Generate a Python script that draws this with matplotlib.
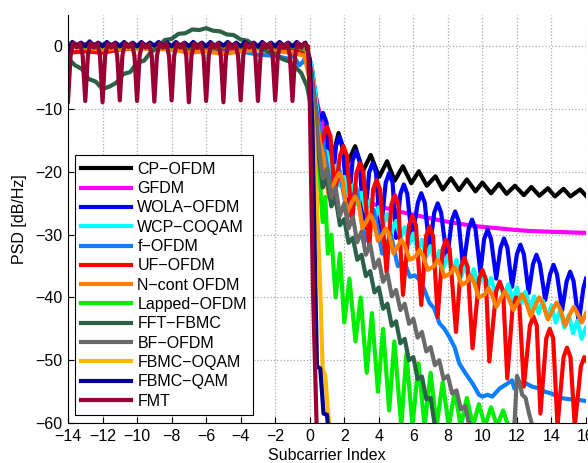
import matplotlib
matplotlib.use('Agg')
import matplotlib.pyplot as plt

plt.rcParams['font.family'] = ['Liberation Sans', 'DejaVu Sans']
plt.rcParams['font.size'] = 11.5

# ---- data (x = subcarrier index, y = PSD in dB/Hz) ----
labels = ['CP\u2212OFDM', 'GFDM', 'WOLA\u2212OFDM', 'WCP\u2212COQAM', 'f\u2212OFDM',
          'UF\u2212OFDM', 'N\u2212cont OFDM', 'Lapped\u2212OFDM', 'FFT\u2212FBMC',
          'BF\u2212OFDM', 'FBMC\u2212OQAM', 'FBMC\u2212QAM', 'FMT']
colors = ['#000000', '#ff00ff', '#0000ff', '#00ffff', '#0a7fff', '#ff0000', '#ff8000',
          '#00ee00', '#2b6147', '#6a6a6a', '#ffb800', '#00008c', '#990033']

cp_x = [-14, -10, -5, -1, -0.2, 0.1, 0.35, 0.75, 1.2, 1.67, 2.15, 2.63, 3.08, 3.53, 4.02,
        4.48, 4.92, 5.4, 5.88, 6.32, 6.78, 7.28, 7.7, 8.18, 8.65, 9.1, 9.6, 10.0, 10.5,
        10.96, 11.4, 11.88, 12.4, 12.84, 13.3, 13.79, 14.2, 14.7, 15.1, 15.66, 16.0]
cp_y = [0, 0, 0, 0, -0.5, -4, -9, -12.5, -19, -13.8, -18.8, -15.9, -19.9, -17.3, -20.8,
        -18.3, -21.4, -19.1, -21.8, -19.9, -22.2, -20.7, -22.8, -21.0, -22.9, -21.2, -23.1,
        -21.7, -23.4, -21.9, -23.5, -22.2, -23.7, -22.4, -23.8, -22.6, -23.9, -22.7, -23.9,
        -22.8, -23.8]

gfdm_x = [-14, -7, -1, -0.2, 0.1, 0.35, 0.6, 1.0, 1.5, 2.0, 2.72, 3.4, 4.06, 5.0, 5.98,
          7.0, 7.9, 9.0, 9.81, 11.0, 11.72, 12.7, 13.64, 14.7, 15.84, 16]
gfdm_y = [0, 0, 0, -0.5, -4, -8, -11, -15.5, -19.5, -22, -23.9, -24.8, -25.5, -26.2, -26.8,
          -27.4, -27.9, -28.4, -28.7, -29.0, -29.2, -29.4, -29.5, -29.6, -29.7, -29.7]

wola_x = [-14, -9, -4, -1, -0.2, 0.1, 0.35, 0.55, 0.77, 0.97, 1.25, 1.52, 1.72, 1.92, 2.2,
          2.48, 2.68, 2.88, 3.15, 3.44, 3.64, 3.84, 4.1, 4.4, 4.6, 4.8, 5.0, 5.25, 5.45,
          5.65, 5.92, 6.26, 6.46, 6.66, 6.94, 7.21, 7.41, 7.61, 7.95, 8.22, 8.42, 8.62,
          8.88, 9.2, 9.4, 9.6, 9.88, 10.1, 10.3, 10.5, 10.8, 11.05, 11.25, 11.45, 11.72,
          12.0, 12.2, 12.4, 12.68, 12.93, 13.13, 13.33, 13.64, 13.92, 14.12, 14.32, 14.62,
          14.88, 15.08, 15.28, 15.58, 15.85, 16.0]
wola_y = [0, 0, 0, 0, -0.5, -3, -8, -12, -10.6, -12.1, -24, -15.9, -14.4, -15.9, -27,
          -18.2, -16.7, -18.2, -29, -20.1, -18.6, -20.1, -30, -21.7, -20.2, -21.7, -30.5,
          -23.5, -22.0, -23.5, -30.8, -24.9, -23.4, -24.9, -32.4, -26.5, -25.0, -26.5,
          -34, -27.8, -26.3, -27.8, -35.3, -29.1, -27.6, -29.1, -36, -30.7, -29.2, -30.7,
          -37, -32.1, -30.6, -32.1, -38.3, -33.1, -31.6, -33.1, -39.3, -34.7, -33.2,
          -34.7, -40.4, -36.3, -34.8, -36.3, -42, -37.4, -35.9, -37.4, -44, -38.5, -37.0]

wcp_x = [-14, -9, -4, -1, -0.2, 0.1, 0.3,
         0.5, 0.75, 1.0, 1.25, 1.5, 1.75, 2.0, 2.25, 2.5, 2.75, 3.0, 3.25, 3.5, 3.75, 4.0,
         4.25, 4.5, 4.75, 5.0, 5.25, 5.5, 5.75, 6.0, 6.25, 6.5, 6.75, 7.0, 7.25, 7.5, 7.75,
         8.0, 8.25, 8.5, 8.75, 9.0, 9.25, 9.5, 9.75, 10.0, 10.25, 10.5, 10.75, 11.0, 11.25,
         11.5, 11.75, 12.0, 12.25, 12.5, 12.75, 13.0, 13.25, 13.5, 13.75, 14.0, 14.25,
         14.5, 14.75, 15.0, 15.25, 15.5, 15.75, 16.0]
wcp_y = [0, 0, 0, 0, -0.5, -3, -7,
         -12.0, -16.5, -16.8, -20.4, -19.0, -22.2, -20.8, -23.8, -22.1, -25.2, -23.3,
         -26.3, -24.5, -27.5, -25.6, -28.5, -26.7, -29.5, -27.8, -30.5, -28.8, -31.5,
         -29.8, -32.5, -30.8, -33.5, -31.8, -34.4, -32.6, -35.2, -33.3, -36.0, -34.0,
         -36.8, -34.8, -37.5, -35.5, -38.2, -36.3, -38.8, -36.9, -39.3, -37.4, -39.8,
         -37.9, -40.4, -38.4, -41.0, -39.1, -41.7, -39.8, -42.5, -40.5, -43.3, -41.3,
         -44.0, -42.0, -44.8, -42.8, -45.7, -43.7, -46.6, -44.8]

fofdm_x = [-14, -12, -10, -8, -6, -4, -3, -2, -1.2, -1, -0.6, -0.4, -0.2, 0.0, 0.3, 0.5,
           0.7, 1.2, 1.7, 2.2, 2.7, 3.2, 3.7, 4.2, 4.7, 5.1, 5.5, 5.8, 6.1, 6.36, 6.6,
           6.94, 7.2, 7.51, 7.8, 8.09, 8.4, 8.66, 9.0, 9.43, 9.8, 10.0, 10.3, 10.57, 11.0,
           11.4, 11.72, 11.85, 12.0, 12.4, 12.87, 13.3, 13.6, 14.0, 14.5, 15.0, 15.56, 16.0]
fofdm_y = [0, -0.3, 0, -0.5, -0.3, -0.8, -1.3, -1.5, -2, -1.3, -3, -2.5, -1.5, -4, -9,
           -12, -14.5, -22, -19.5, -27, -22.5, -31, -26, -33, -30, -35, -34.5, -36.7,
           -36.5, -37.2, -38.5, -40.9, -41.7, -44.1, -45, -46.3, -48, -50.5, -52, -53.7,
           -55.5, -55.8, -55.5, -55.8, -54.5, -53.8, -53.2, -54.5, -54, -53.5, -54.2,
           -54.5, -55, -55.3, -56, -56.2, -56.3, -56.5]

uf_x = [-14, -13, -12, -11, -10, -5, -1, -0.2, 0.1, 0.35, 0.55, 0.8, 1.0, 1.2, 1.45, 1.75,
        1.95, 2.15, 2.45, 2.71, 2.91, 3.11, 3.45, 3.67, 3.87, 4.07, 4.45, 4.73, 4.93, 5.13,
        5.4, 5.75, 5.95, 6.15, 6.46, 6.74, 6.94, 7.14, 7.41, 7.7, 7.9, 8.1, 8.47, 8.75,
        8.95, 9.15, 9.43, 9.8, 10.0, 10.2, 10.4, 10.8, 11.0, 11.2, 11.44, 11.75, 11.95,
        12.15, 12.4, 12.75, 12.95, 13.15, 13.36, 13.7, 13.9, 14.1, 14.35, 14.7, 14.9,
        15.1, 15.35, 15.7, 15.9, 16.0]
uf_y = [-1, -0.8, -1, -0.5, -0.3, -0.3, -0.3, -1, -4, -10, -16, -14.3, -12.8, -14.3, -24,
        -17.4, -15.9, -17.4, -28, -20.1, -18.6, -20.1, -32, -22.8, -21.3, -22.8, -36,
        -25.2, -23.7, -25.2, -39.6, -28.5, -27.0, -28.5, -41.2, -30.2, -28.7, -30.2,
        -43.1, -32.3, -30.8, -32.3, -45.5, -35.2, -33.7, -35.2, -48.1, -37.1, -35.6,
        -37.1, -50.2, -39.0, -37.5, -39.0, -52.9, -41.5, -40.0, -41.5, -54.2, -44.5,
        -43.0, -44.5, -58.5, -46.5, -45.0, -46.5, -60.5, -49.5, -48.0, -49.5, -60.5,
        -51.0, -49.5, -50.0]

ncont_x = [-14, -12, -10, -8, -7, -6, -5, -4, -3, -2, -1, -0.3, 0.2, 0.6, 0.8, 1.1, 1.5,
           1.7, 1.9, 2.15, 2.43, 2.63, 2.83, 3.05, 3.3, 3.5, 3.7, 3.95, 4.2, 4.4, 4.6,
           4.85, 5.11, 5.31, 5.51, 5.79, 6.16, 6.36, 6.56, 6.84, 7.21, 7.41, 7.61, 7.8,
           8.17, 8.37, 8.57, 8.8, 9.1, 9.3, 9.5, 9.8, 10.15, 10.35, 10.55, 10.8, 11.1,
           11.3, 11.5, 11.8, 12.1, 12.3, 12.5, 12.8, 13.1, 13.3, 13.5, 13.8, 14.1, 14.3,
           14.5, 14.8, 15.1, 15.3, 15.5, 15.75, 16.0]
ncont_y = [0, -0.5, -0.3, -0.5, -1, -0.8, -1.2, -0.8, -0.5, -0.8, -1, -1.5, -8, -15.4,
           -17.5, -24, -21.2, -20.2, -21.2, -26.5, -24.9, -23.9, -24.9, -29, -27.8, -26.8,
           -27.8, -31, -30, -29, -30, -33, -31.8, -30.8, -31.8, -34, -33.4, -32.4, -33.4,
           -35.6, -35, -34, -35, -36.7, -36.1, -35.1, -36.1, -38, -37.5, -36.5, -37.5,
           -40, -39.5, -38.5, -39.5, -41.5, -40, -39, -40, -42, -40.5, -39.5, -40.5, -43,
           -41, -40, -41, -43.5, -41.8, -40.8, -41.8, -44.5, -42.5, -41.5, -42.5, -44,
           -42.5]

lapped_x = [-14, -7, -1, -0.2, 0.1, 0.3, 0.45, 0.6, 0.75, 0.9, 1.05, 1.25, 1.5, 1.75, 2.0,
            2.3, 2.65, 2.95, 3.3, 3.6, 3.95, 4.25, 4.6, 4.9, 5.3, 5.6, 5.95, 6.3, 6.65,
            7.0, 7.35, 7.7, 8.05, 8.4, 8.75, 9.1, 9.45, 9.8, 10.15, 10.5, 10.85, 11.2, 11.5]
lapped_y = [0, 0, 0, -0.5, -5, -14, -20, -22, -28, -24, -33, -30, -40, -33, -44, -37, -47,
            -40, -52, -42.5, -55, -45, -58, -47, -60.5, -49, -60.5, -50.5, -60.5, -52,
            -60.5, -53.5, -60.5, -55, -60.5, -56, -60.5, -57, -60.5, -57.5, -60.5, -58,
            -60.5]

fft_x = [-14, -13.6, -13.2, -12.8, -12.4, -12.0, -11.6, -11.2, -10.8, -10.4, -10.0, -9.6,
         -9.2, -8.8, -8.4, -8.0, -7.6, -7.2, -6.8, -6.4, -6.0, -5.6, -5.2, -4.8, -4.4,
         -4.0, -3.6, -3.2, -2.8, -2.4, -2.0, -1.6, -1.2, -0.8, -0.5, -0.15, 0.1, 0.3,
         0.5, 0.75, 1.0, 1.25, 1.5, 1.75, 2.0, 2.25, 2.5, 2.75, 3.0, 3.25, 3.5, 3.75, 4.0,
         4.25, 4.5, 4.75, 5.0, 5.25, 5.5, 5.75, 6.0, 6.25, 6.5, 6.75, 7.0, 7.25]
fft_y = [-1.9, -3.0, -3.6, -5.2, -5.6, -6.8, -6.4, -5.8, -4.4, -4.1, -2.6, -2.3, -0.9, -0.2,
         1.0, 1.2, 2.0, 2.1, 2.7, 2.6, 2.9, 2.5, 2.4, 1.9, 1.8, 1.1, 0.9, 0.1, -0.3, -0.9,
         -1.2, -2.0, -2.4, -3.4, -4.2, -6.4, -10, -14, -17.0, -22.5, -21.0, -25.5, -24.2,
         -28.5, -27.5, -31.3, -30.5, -34.0, -33.2, -36.6, -35.8, -39.2, -38.4, -41.8,
         -41.0, -44.5, -43.8, -47.3, -46.6, -50.0, -49.5, -53.0, -52.6, -56.2, -56.0,
         -60.5]

bf_x = [-14, -13.5, -10, -5, -1, -0.2, 0.25,
        0.5, 0.75, 1.0, 1.25, 1.5, 1.75, 2.0, 2.25, 2.5, 2.75, 3.0, 3.25, 3.5, 3.75, 4.0,
        4.25, 4.5, 4.75, 5.0, 5.25, 5.5, 5.75, 6.0, 6.25, 6.5, 6.75, 7.0, 7.25, 7.5, 7.75,
        8.0, 8.25, 8.5, 8.75, 9.0, 9.25, None,
        11.85, 12.0, 12.15, 12.3, 12.5, 12.7, 12.9]
bf_y = [0.5, 0.4, 0.2, 0.2, 0.2, -0.3, -8,
        -15.5, -21.0, -19.5, -24.0, -22.5, -27.0, -25.0, -29.0, -27.2, -31.2, -29.5,
        -33.2, -31.5, -35.3, -34.0, -37.5, -36.2, -39.8, -38.8, -42.0, -41.0, -44.2,
        -43.4, -46.4, -45.5, -48.6, -47.9, -50.8, -50.0, -53.0, -52.5, -55.3, -54.8,
        -57.8, -57.3, -60.5, None,
        -60.5, -52.5, -53.5, -55.5, -56.0, -58.5, -60.5]

oqam_x = [-14, -10, -5, -1, -0.2, 0.0, 0.2, 0.4, 0.61, 0.75, 0.9, 1.06, 1.15]
oqam_y = [0.3, 0.2, 0.2, 0.2, 0, -4, -12, -24, -38.8, -51.6, -52.4, -58.5, -60.5]

qam_x = [-14, -13.75, -13.5, -13.25, -13.0, -12.75, -12.5, -12.25, -12.0, -11.75, -11.5,
         -11.25, -11.0, -10.75, -10.5, -10.25, -10.0, -9.75, -9.5, -9.25, -9.0, -8.75,
         -8.5, -8.25, -8.0, -7.75, -7.5, -7.25, -7.0, -6.75, -6.5, -6.25, -6.0, -5.75,
         -5.5, -5.25, -5.0, -4.75, -4.5, -4.25, -4.0, -3.75, -3.5, -3.25, -3.0, -2.75,
         -2.5, -2.25, -2.0, -1.75, -1.5, -1.25, -1.0, -0.75, -0.5, -0.25, 0.0, 0.15,
         0.33, 0.42, 0.61, 0.8, 1.0, 1.06]
qam_y = [-0.8, 0.7, 0.1, 0.6, 0.0, 0.8, 0.1, 0.6, 0.0, 0.7, 0.1, 0.6, 0.0, 0.7,
         0.1, 0.6, 0.0, 0.7, 0.1, 0.6, 0.1, 0.7, 0.1, 0.6, 0.0, 0.7, 0.1, 0.6,
         0.0, 0.7, 0.1, 0.6, 0.0, 0.7, 0.1, 0.6, 0.1, 0.7, 0.1, 0.6, 0.0, 0.7,
         0.1, 0.6, 0.0, 0.7, 0.1, 0.6, 0.0, 0.7, 0.1, 0.6, 0.0, 0.7, 0.1, 0.6,
         -2, -12, -38.8, -51.0, -51.3, -58.5, -58.7, -60.5]

fmt_x = [-14, -13.85, -13.7, -13.5, -13.3, -13.15,
         -13, -12.85, -12.7, -12.5, -12.3, -12.15,
         -12, -11.85, -11.7, -11.5, -11.3, -11.15,
         -11, -10.85, -10.7, -10.5, -10.3, -10.15,
         -10, -9.85, -9.7, -9.5, -9.3, -9.15,
         -9, -8.85, -8.7, -8.5, -8.3, -8.15,
         -8, -7.85, -7.7, -7.5, -7.3, -7.15,
         -7, -6.85, -6.7, -6.5, -6.3, -6.15,
         -6, -5.85, -5.7, -5.5, -5.3, -5.15,
         -5, -4.85, -4.7, -4.5, -4.3, -4.15,
         -4, -3.85, -3.7, -3.5, -3.3, -3.15,
         -3, -2.85, -2.7, -2.5, -2.3, -2.15,
         -2, -1.85, -1.7, -1.5, -1.3, -1.15,
         -1, -0.85, -0.7, -0.5, -0.3, -0.1, 0.0, 0.1, 0.2, 0.4]
fmt_y = [-8.8, -1.5, 0.5, -0.2, 0.5, -1.5,
         -8.7, -1.5, 0.5, -0.2, 0.5, -1.5,
         -8.9, -1.5, 0.4, -0.2, 0.5, -1.5,
         -8.6, -1.5, 0.5, -0.1, 0.5, -1.5,
         -8.7, -1.5, 0.5, -0.2, 0.4, -1.5,
         -8.8, -1.5, 0.5, -0.2, 0.5, -1.5,
         -8.6, -1.5, 0.5, -0.2, 0.5, -1.5,
         -8.9, -1.5, 0.4, -0.2, 0.5, -1.5,
         -8.7, -1.5, 0.5, -0.1, 0.5, -1.5,
         -8.9, -1.5, 0.5, -0.2, 0.4, -1.5,
         -8.6, -1.5, 0.5, -0.2, 0.5, -1.5,
         -8.7, -1.5, 0.5, -0.2, 0.5, -1.5,
         -8.6, -1.5, 0.4, -0.2, 0.5, -1.5,
         -8.7, -1.5, 0.5, -0.2, 0.5, 0.0, -8, -25, -40, -60.5]

series = [(cp_x, cp_y), (gfdm_x, gfdm_y), (wola_x, wola_y), (wcp_x, wcp_y),
          (fofdm_x, fofdm_y), (uf_x, uf_y), (ncont_x, ncont_y), (lapped_x, lapped_y),
          (fft_x, fft_y), (bf_x, bf_y), (oqam_x, oqam_y), (qam_x, qam_y), (fmt_x, fmt_y)]

fig = plt.figure(figsize=(5.88, 4.63), dpi=100)
ax = fig.add_axes([68/588, 40/463, 518/588, 408/463])

for (xs, ys), lab, col in zip(series, labels, colors):
    xs = [float('nan') if v is None else v for v in xs]
    ys = [float('nan') if v is None else v for v in ys]
    ax.plot(xs, ys, color=col, lw=3, label=lab, solid_joinstyle='round')

ax.set_xlim(-14, 16)
ax.set_ylim(-60, 5)
ax.set_xticks(range(-14, 17, 2))
ax.set_yticks(range(-60, 1, 10))
ax.grid(True, linestyle=':', color='#aaaaaa', lw=0.9)
ax.set_axisbelow(True)
ax.spines['top'].set_visible(False)
ax.spines['right'].set_visible(False)
ax.tick_params(direction='in', length=4, top=False, right=False, labelsize=11.5, pad=4)
ax.set_xlabel('Subcarrier Index', fontsize=11.5, labelpad=3)
ax.set_ylabel('PSD [dB/Hz]', fontsize=11.5, labelpad=6)

leg = ax.legend(loc='lower left', bbox_to_anchor=(75/588, 48/463),
                bbox_transform=fig.transFigure, fancybox=False, framealpha=1,
                edgecolor='black', handlelength=3.1, handletextpad=0.4,
                labelspacing=0.27, borderpad=0.4, borderaxespad=0, fontsize=11.5)
leg.get_frame().set_linewidth(0.8)

fig.savefig('out.png', dpi=100)
